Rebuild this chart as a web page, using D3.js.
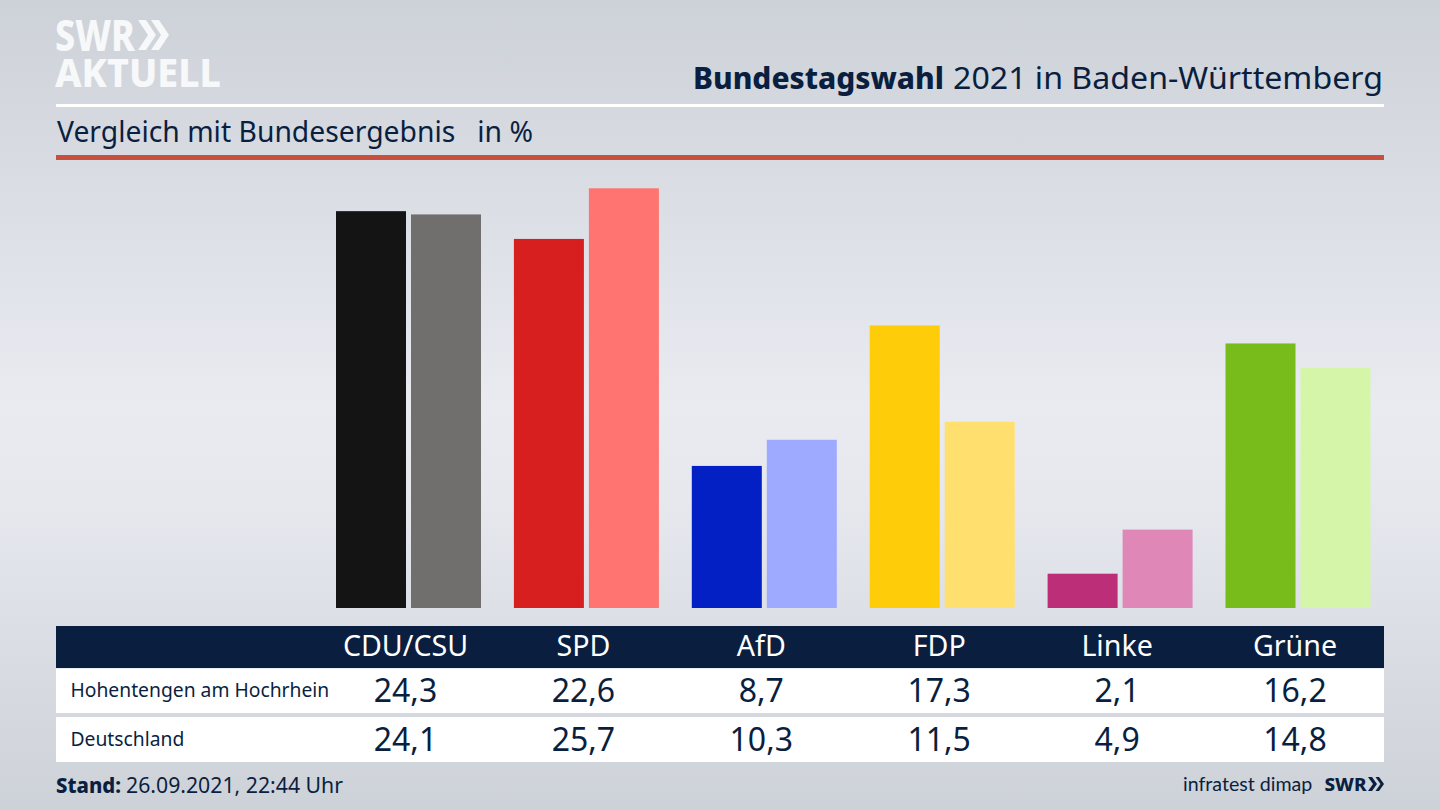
<!DOCTYPE html>
<html lang="de"><head><meta charset="utf-8">
<script src="https://d3js.org/d3.v7.min.js"></script>
<style>html,body{margin:0;padding:0;background:#d8dbe1;overflow:hidden}svg{display:block}text{font-family:"Noto Sans",sans-serif}</style>
</head><body><svg id="c" width="1440" height="810"></svg>
<script>
const categories=["CDU/CSU","SPD","AfD","FDP","Linke","Grüne"];
const regionName="Hohentengen am Hochrhein";
const nationName="Deutschland";
const regionValues=[24.3,22.6,8.7,17.3,2.1,16.2];
const nationValues=[24.1,25.7,10.3,11.5,4.9,14.8];
// heights as the pale bars actually stand in the picture
const nationBarValues=[24.1,25.7,10.3,11.4,4.8,14.7];
const regionColors=["#141414","#d71f1f","#0320c4","#ffcc0a","#bd2e78","#78bc1c"];
const nationColors=["#706f6d","#ff7470","#9daaff","#ffe06e","#df88b8","#d5f6a8"];
const navy="#0a1f3f";
const fmt=v=>v.toFixed(1).replace(".",",");

const svg=d3.select("#c");
const defs=svg.append("defs");
const bg=defs.append("linearGradient").attr("id","bg").attr("x1",0).attr("x2",0).attr("y1",0).attr("y2",1);
[[0,"#cdd1d8"],[0.5,"#e9ebf1"],[0.62,"#e6e8ee"],[1,"#cdd1d8"]].forEach(s=>bg.append("stop").attr("offset",s[0]).attr("stop-color",s[1]));
svg.append("rect").attr("width",1440).attr("height",810).attr("fill","url(#bg)");

// logo
const logo=svg.append("g").attr("fill","#f7f8f9");
const logoText=logo.append("text").attr("font-size",42).attr("font-weight",800);
logoText.append("tspan").attr("x",55).attr("y",51).attr("textLength",80).attr("lengthAdjust","spacingAndGlyphs").text("SWR");
logoText.append("tspan").attr("x",55).attr("y",87).attr("font-size",40).attr("textLength",166).attr("lengthAdjust","spacingAndGlyphs").text("AKTUELL");
logo.append("path").attr("d","M138 20h8l10 15-10 15h-8l10-15zM151 20h8l10 15-10 15h-8l10-15z");

// header
const title=svg.append("text").attr("y",89).attr("font-size",31).attr("fill",navy);
title.append("tspan").attr("x",693).attr("font-weight",800).attr("textLength",251).attr("lengthAdjust","spacingAndGlyphs").text("Bundestagswahl");
title.append("tspan").attr("x",953).attr("textLength",430).attr("lengthAdjust","spacingAndGlyphs").text("2021 in Baden-Württemberg");
svg.append("rect").attr("x",56).attr("y",104).attr("width",1328).attr("height",3).attr("fill","#fff");
svg.append("text").attr("x",57).attr("y",142).attr("font-size",28.3).attr("fill",navy).style("white-space","pre").text("Vergleich mit Bundesergebnis   in %");
svg.append("rect").attr("x",56).attr("y",155).attr("width",1328).attr("height",5).attr("fill","#c8503f");

// scales
const x=d3.scaleBand().domain(categories).range([319.5,1386.9]);
const pair=d3.scaleBand().domain(["region","nation"]).range([16.5,161.5]).paddingInner(5/75);
const y=d3.scaleLinear().domain([0,25.7]).range([608,188.3]);

const groups=svg.append("g").selectAll("g").data(categories).join("g").attr("transform",d=>`translate(${x(d)},0)`);
groups.append("rect").attr("x",pair("region")).attr("width",pair.bandwidth())
  .attr("y",(d,i)=>y(regionValues[i])).attr("height",(d,i)=>y(0)-y(regionValues[i])).attr("fill",(d,i)=>regionColors[i]);
groups.append("rect").attr("x",pair("nation")).attr("width",pair.bandwidth())
  .attr("y",(d,i)=>y(nationBarValues[i])).attr("height",(d,i)=>y(0)-y(nationBarValues[i])).attr("fill",(d,i)=>nationColors[i]);

// table
svg.append("rect").attr("x",56).attr("y",626).attr("width",1328).attr("height",42).attr("fill",navy);
svg.append("rect").attr("x",56).attr("y",668.5).attr("width",1328).attr("height",44.5).attr("fill","#fff");
svg.append("rect").attr("x",56).attr("y",717).attr("width",1328).attr("height",45).attr("fill","#fff");
const cx=d=>x(d)+86;
svg.append("g").selectAll("text").data(categories).join("text").attr("x",cx).attr("y",656).attr("text-anchor","middle").attr("font-size",28.6).attr("fill","#fff").text(d=>d);
svg.append("g").selectAll("text").data(categories).join("text").attr("x",cx).attr("y",702).attr("text-anchor","middle").attr("font-size",32).attr("fill",navy).text((d,i)=>fmt(regionValues[i]));
svg.append("g").selectAll("text").data(categories).join("text").attr("x",cx).attr("y",751).attr("text-anchor","middle").attr("font-size",32).attr("fill",navy).text((d,i)=>fmt(nationValues[i]));
svg.append("text").attr("x",70.5).attr("y",697).attr("font-size",19.3).attr("fill",navy).text(regionName);
svg.append("text").attr("x",70.5).attr("y",746).attr("font-size",19.3).attr("fill",navy).text(nationName);

// footer
const st=svg.append("text").attr("y",793).attr("font-size",21).attr("fill",navy);
st.append("tspan").attr("x",56).attr("font-weight",800).attr("textLength",65).attr("lengthAdjust","spacingAndGlyphs").text("Stand:");
st.append("tspan").attr("x",126).attr("textLength",217).attr("lengthAdjust","spacingAndGlyphs").text("26.09.2021, 22:44 Uhr");
svg.append("text").attr("x",1183).attr("y",791).attr("font-size",19.6).style("font-family","Lato").attr("fill",navy).text("infratest dimap");
svg.append("text").attr("x",1324.5).attr("y",790.5).attr("font-size",18).attr("font-weight",800).attr("fill",navy).attr("textLength",42).attr("lengthAdjust","spacingAndGlyphs").text("SWR");
svg.append("path").attr("fill",navy).attr("d","M1368 777h4l5 7-5 7h-4l5-7zM1375.5 777h3.500l5 7-5 7h-3.500l5-7z");
</script></body></html>
